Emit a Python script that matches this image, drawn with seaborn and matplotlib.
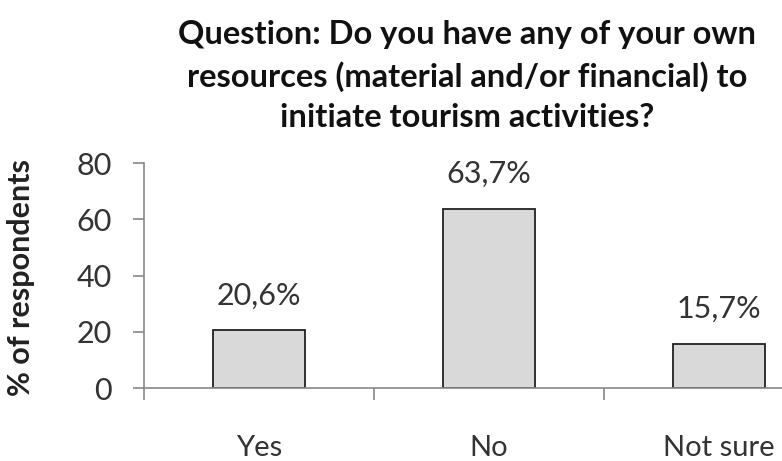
import matplotlib
matplotlib.use("Agg")
import matplotlib.pyplot as plt
import seaborn as sns
import pandas as pd

categories = ["Yes", "No", "Not sure"]
values = [20.6, 63.7, 15.7]
value_labels = ["20,6%", "63,7%", "15,7%"]
yticks = [0, 20, 40, 60, 80]

title = "Question: Do you have any of your own\nresources (material and/or financial) to\ninitiate tourism activities?"
ylabel = "% of respondents"

sns.set_style("white")
plt.rcParams["font.family"] = ["Lato", "DejaVu Sans"]

df = pd.DataFrame({"cat": categories, "val": values})

fig = plt.figure(figsize=(7.82, 4.61), dpi=100)
W, H = 782, 461
x0, x1 = 144, 834
y0, y1 = 388, 163
ax = fig.add_axes([x0 / W, (H - y0) / H, (x1 - x0) / W, (y0 - y1) / H])

sns.barplot(data=df, x="cat", y="val", ax=ax, color="#d9d9d9", edgecolor="#222222",
            linewidth=1.3, width=0.4, saturation=1)

ax.set_xlim(-0.5, 2.5)
ax.set_ylim(0, 80)
ax.set_yticks(yticks)
ax.set_yticklabels([str(t) for t in yticks])

# x ticks: labels at centres (minor), marks at boundaries (major)
ax.set_xticks([-0.5, 0.5, 1.5, 2.5])
ax.set_xticklabels([])
ax.set_xticks(range(len(categories)), minor=True)
ax.set_xticklabels(categories, minor=True)
ax.tick_params(axis="x", which="major", bottom=True, direction="out", length=8.6,
               width=1.2, color="#888888")
ax.tick_params(axis="x", which="minor", bottom=False, length=0, pad=34, labelsize=21,
               labelcolor="#333333")
ax.tick_params(axis="y", left=True, direction="out", length=8, width=1.2, color="#888888",
               pad=15, labelsize=22, labelcolor="#333333")

for s in ["top", "right"]:
    ax.spines[s].set_visible(False)
for s in ["left", "bottom"]:
    ax.spines[s].set_color("#888888")
    ax.spines[s].set_linewidth(1.2)

ax.set_xlabel("")
ax.set_ylabel(ylabel, fontsize=22, fontweight="bold", color="#222222")
ax.yaxis.set_label_coords(-0.158, 0.49)

for i, (v, lab) in enumerate(zip(values, value_labels)):
    ax.annotate(lab, (i, v), xytext=(0, 25), textcoords="offset points",
                ha="center", va="center", fontsize=22, color="#333333")

fig.text(0.597, 1 - 76 / H, title, ha="center", va="center", multialignment="center",
         fontsize=23.5, fontweight="bold", color="#111111", linespacing=1.45)

fig.savefig("out.png", dpi=100)
